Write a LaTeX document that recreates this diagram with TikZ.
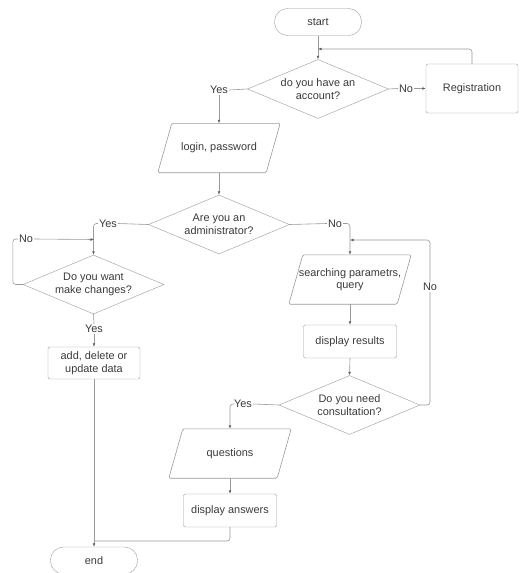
\documentclass[tikz,border=0pt]{standalone}
\usepackage{fontspec}
\setmainfont{Liberation Sans}
\usetikzlibrary{shapes.geometric,arrows.meta,calc}
\definecolor{ln}{HTML}{9A9A9A}
\definecolor{tx}{HTML}{3A3A3A}
\newcommand\paragon[1]{\draw[draw=ln,line width=0.6pt,rounded corners=1.5pt]
  ([xshift=7pt]#1.north west) -- ([xshift=7pt]#1.north east) --
  ([xshift=-7pt]#1.south east) -- ([xshift=-7pt]#1.south west) -- cycle;}
\begin{document}
\begin{tikzpicture}[x=1pt,y=-1pt,
  font=\fontsize{10.9}{12.6}\selectfont,
  every node/.style={text=tx},
  term/.style={draw=ln,rounded corners=13pt,minimum width=87pt,minimum height=27pt,inner sep=0pt},
  dec/.style={draw=ln,diamond,aspect=2.4,inner sep=0pt,minimum width=141pt,minimum height=59pt,align=center},
  box/.style={draw=ln,rounded corners=2pt,minimum width=93pt,minimum height=33pt,inner sep=0pt,align=center},
  io/.style={minimum width=108pt,minimum height=49pt,inner sep=0pt,align=center},
  lbl/.style={fill=white,inner sep=1pt},
  conn/.style={draw=ln,line width=0.6pt,rounded corners=3pt},
  arr/.style={conn,-{Latex[length=3.5pt,width=2.8pt,color=tx!80]}}
]
\useasboundingbox (0,0) rectangle (530,573);

\node[term] (start) at (318,22) {start};
\node[dec] (acc) at (318,89) {do you have an\\account?};
\node[box,minimum width=92pt,minimum height=49pt] (reg) at (472,88.5) {Registration};
\node[io] (login) at (219,148) {login, password};
\paragon{login}
\node[dec] (admin) at (219,224.5) {Are you an\\administrator?};
\node[dec] (chg) at (93.5,284.5) {Do you want\\make changes?};
\node[box,minimum width=92pt,minimum height=32pt] (add) at (94,363) {add, delete or\\update data};
\node[term] (end) at (94,560.5) {end};
\node[io] (search) at (350,279.5) {searching parametrs,\\query};
\paragon{search}
\node[box] (res) at (350,341.5) {display results};
\node[dec] (cons) at (349.5,405) {Do you need\\consultation?};
\node[io] (quest) at (230,453.5) {questions};
\paragon{quest}
\node[box] (ans) at (230,510.5) {display answers};

% labels
\node[lbl] (yes1) at (219,90) {Yes};
\node[lbl] (no1) at (406,88.5) {No};
\node[lbl] (yes2) at (108,223.5) {Yes};
\node[lbl] (no2) at (26,239) {No};
\node[lbl] (yes3) at (94,329) {Yes};
\node[lbl] (no3) at (335,223.5) {No};
\node[lbl] (no4) at (430,287) {No};
\node[lbl] (yes4) at (243,404) {Yes};

% junctions
\coordinate (j1) at (318,49);
\coordinate (j2) at (94,239.5);
\coordinate (j3) at (350,240);
\coordinate (j4) at (94,541);

% connectors
\draw[arr] (start.south) -- (acc.north);
\draw[arr] (reg.north) |- (j1);
\draw[conn] (acc.east) -- (no1.west);
\draw[arr] (no1.east) -- (reg.west);
\draw[conn] (acc.west) -- (yes1.east);
\draw[arr] (yes1.south) -- (login.north);
\draw[arr] (login.south) -- (admin.north);
\draw[conn] (admin.west) -- (yes2.east);
\draw[arr] (yes2.west) -| (chg.north);
\draw[conn] (chg.west) -- ++(-10,0) |- (no2.west);
\draw[arr] (no2.east) -- (j2);
\draw[conn] (chg.south) -- (yes3.north);
\draw[arr] (yes3.south) -- (add.north);
\draw[arr] (add.south) -- (end.north);
\draw[conn] (admin.east) -- (no3.west);
\draw[arr] (no3.east) -| (search.north);
\draw[conn] (cons.east) -| (no4.south);
\draw[arr] (no4.north) |- (j3);
\draw[arr] (search.south) -- (res.north);
\draw[arr] (res.south) -- (cons.north);
\draw[conn] (cons.west) -- (yes4.east);
\draw[arr] (yes4.west) -| (quest.north);
\draw[arr] (quest.south) -- (ans.north);
\draw[conn] (ans.south) |- (j4);
\end{tikzpicture}
\end{document}
